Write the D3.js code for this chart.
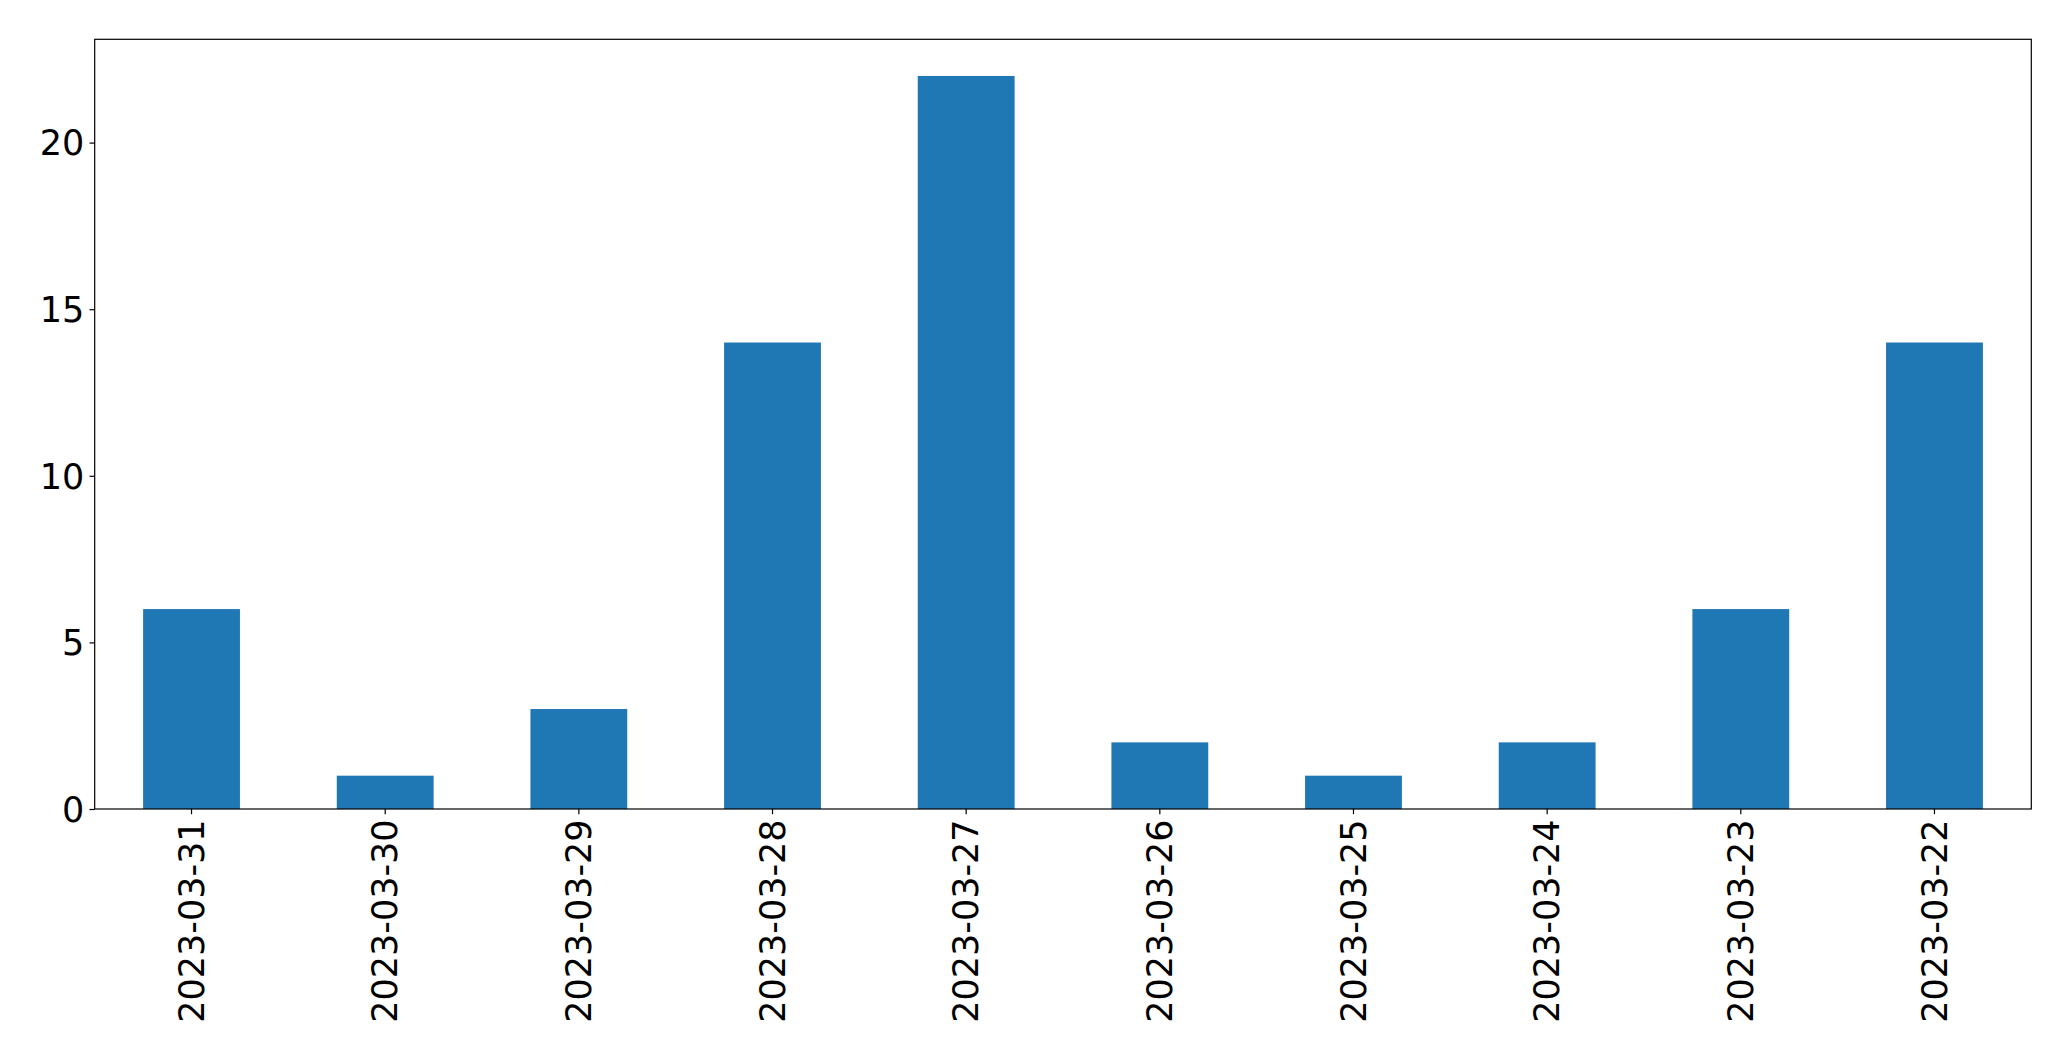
<!DOCTYPE html>
<html>
<head>
<meta charset="utf-8">
<script src="https://cdn.jsdelivr.net/npm/d3@7"></script>
<style>
  body { margin: 0; background: #fff; }
  svg { display: block; }
  text { font-family: "DejaVu Sans", sans-serif; fill: #000; }
</style>
</head>
<body>
<svg id="chart" width="2071" height="1061"></svg>
<script>
const categories = ["2023-03-31","2023-03-30","2023-03-29","2023-03-28","2023-03-27","2023-03-26","2023-03-25","2023-03-24","2023-03-23","2023-03-22"];
const values = [6, 1, 3, 14, 22, 2, 1, 2, 6, 14];
const yTicks = [0, 5, 10, 15, 20];

const W = 2071, H = 1061;
const margin = {left: 94.7, top: 39.3, right: W - 2031.3, bottom: H - 809};
const iw = W - margin.left - margin.right;
const ih = H - margin.top - margin.bottom;
const fontPx = 35;
const tickLen = 5.2;
const pad = 5.2;

const svg = d3.select("#chart");
const g = svg.append("g").attr("transform", `translate(${margin.left},${margin.top})`);

const x = d3.scaleBand().domain(categories).range([0, iw]).paddingInner(0.5).paddingOuter(0.25);
const ymax = d3.max(values) * 1.05;
const y = d3.scaleLinear().domain([0, ymax]).range([ih, 0]);

g.selectAll("rect.bar").data(values).enter().append("rect")
  .attr("class", "bar")
  .attr("x", (d, i) => x(categories[i]))
  .attr("width", x.bandwidth())
  .attr("y", d => y(d))
  .attr("height", d => ih - y(d))
  .attr("fill", "#1f77b4");

// Y axis
const yAxis = d3.axisLeft(y).tickValues(yTicks).tickSize(tickLen).tickPadding(pad).tickFormat(d3.format("d"));
const ya = g.append("g").call(yAxis);
ya.select(".domain").remove();
ya.selectAll(".tick line").attr("stroke", "#000").attr("stroke-width", 1.2);
ya.selectAll(".tick text").style("font-size", fontPx + "px").attr("dy", "0.35em");

// X axis
const xAxis = d3.axisBottom(x).tickSize(tickLen).tickPadding(pad);
const xa = g.append("g").attr("transform", `translate(0,${ih})`).call(xAxis);
xa.select(".domain").remove();
xa.selectAll(".tick line").attr("stroke", "#000").attr("stroke-width", 1.2);
xa.selectAll(".tick text")
  .style("font-size", fontPx + "px")
  .attr("text-anchor", "end")
  .attr("transform", `translate(0,${tickLen + pad}) rotate(-90)`)
  .attr("x", 0).attr("y", 0).attr("dy", "0.35em");

// Frame
g.append("rect").attr("x", 0).attr("y", 0).attr("width", iw).attr("height", ih)
  .attr("fill", "none").attr("stroke", "#000").attr("stroke-width", 1.2);
</script>
</body>
</html>
